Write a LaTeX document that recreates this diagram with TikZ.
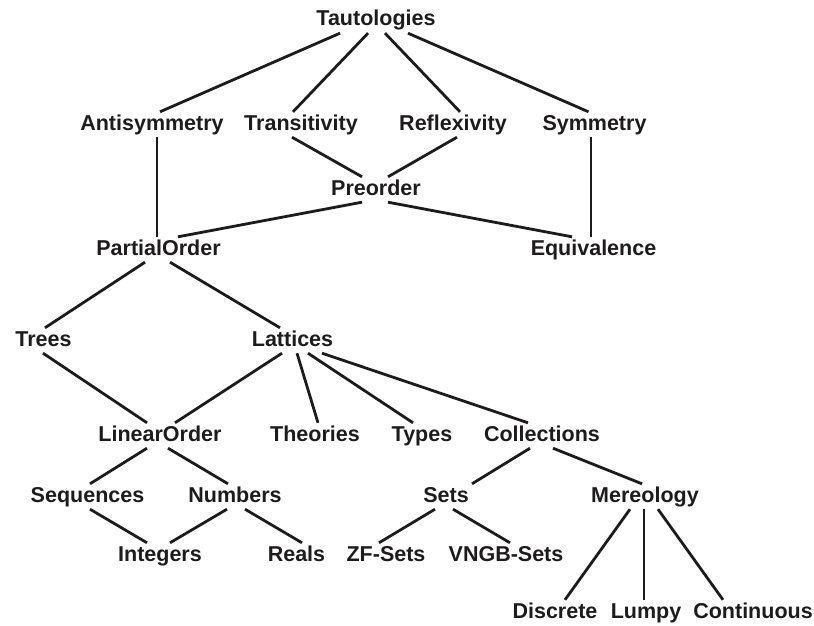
\documentclass[tikz,border=0pt]{standalone}
\usepackage{fontspec}
\setmainfont{Liberation Sans}
\usepackage{tikz}

\definecolor{inkdark}{HTML}{1E1B1C}

\tikzset{
    concept/.style={anchor=base, inner xsep=2pt, inner ysep=3pt, text height=15pt, text depth=4pt,
        font=\fontsize{21.5}{24}\selectfont\bfseries, text=inkdark},
    link/.style={line width=2.8pt, inkdark}
}

\begin{document}
\begin{tikzpicture}[x=1pt,y=-1pt]
    \useasboundingbox (0,0) rectangle (814,626);

    % Place concepts (at their baselines)
    \node[concept] (taut) at (376,26) {Tautologies};
    \node[concept] (anti) at (152,130) {Antisymmetry};
    \node[concept] (trans) at (301,130) {Transitivity};
    \node[concept] (refl) at (453,130) {Reflexivity};
    \node[concept] (symm) at (594.5,130) {Symmetry};
    \node[concept] (preorder) at (376,195) {Preorder};
    \node[concept] (partial) at (158.5,255) {PartialOrder};
    \node[concept] (equiv) at (593.5,255) {Equivalence};
    \node[concept] (trees) at (43.5,346) {Trees};
    \node[concept] (lattices) at (292.5,346) {Lattices};
    \node[concept] (linear) at (160,441) {LinearOrder};
    \node[concept] (theories) at (315,441) {Theories};
    \node[concept] (types) at (422,441) {Types};
    \node[concept] (coll) at (542,441) {Collections};
    \node[concept] (seq) at (87.5,502) {Sequences};
    \node[concept] (numbers) at (235,502) {Numbers};
    \node[concept] (sets) at (446,502) {Sets};
    \node[concept] (mereo) at (645,502) {Mereology};
    \node[concept] (integers) at (160,561) {Integers};
    \node[concept] (reals) at (296.5,561) {Reals};
    \node[concept] (zfsets) at (386,561) {ZF-Sets};
    \node[concept] (vngb) at (506,561) {VNGB-Sets};
    \node[concept] (discrete) at (555,618) {Discrete};
    \node[concept] (lumpy) at (646,618) {Lumpy};
    \node[concept] (cont) at (753,618) {Continuous};

    % Draw links
    \draw[link] ([xshift=-36pt]taut.south) -- ([xshift=8pt]anti.north);
    \draw[link] ([xshift=-8pt]taut.south) -- ([xshift=-8pt]trans.north);
    \draw[link] ([xshift=9pt]taut.south) -- ([xshift=7pt]refl.north);
    \draw[link] ([xshift=32pt]taut.south) -- ([xshift=-6pt]symm.north);
    \draw[link] ([xshift=5pt]anti.south) -- ([xshift=-1.5pt]partial.north);
    \draw[link] ([xshift=-9pt]trans.south) -- ([xshift=-14pt]preorder.north);
    \draw[link] ([xshift=4pt]refl.south) -- ([xshift=12pt]preorder.north);
    \draw[link] ([xshift=-3.5pt]symm.south) -- ([xshift=-2.5pt]equiv.north);
    \draw[link] ([xshift=-14pt]preorder.south) -- ([xshift=19.5pt]partial.north);
    \draw[link] ([xshift=12pt]preorder.south) -- ([xshift=-21.5pt]equiv.north);
    \draw[link] ([xshift=-13.5pt]partial.south) -- ([xshift=1.5pt]trees.north);
    \draw[link] ([xshift=11.5pt]partial.south) -- ([xshift=-12.5pt]lattices.north);
    \draw[link] ([xshift=-0.5pt]trees.south) -- ([xshift=-13pt]linear.north);
    \draw[link] ([xshift=-10.5pt]lattices.south) -- ([xshift=15pt]linear.north);
    \draw[link] ([xshift=4.5pt]lattices.south) -- ([xshift=3pt]theories.north);
    \draw[link] ([xshift=15.5pt]lattices.south) -- ([xshift=-9pt]types.north);
    \draw[link] ([xshift=29.5pt]lattices.south) -- ([xshift=-14pt]coll.north);
    \draw[link] ([xshift=-13pt]linear.south) -- ([xshift=2.5pt]seq.north);
    \draw[link] ([xshift=8pt]linear.south) -- ([xshift=-7pt]numbers.north);
    \draw[link] ([xshift=2.5pt]seq.south) -- ([xshift=-13pt]integers.north);
    \draw[link] ([xshift=-8pt]numbers.south) -- ([xshift=10pt]integers.north);
    \draw[link] ([xshift=10pt]numbers.south) -- ([xshift=5.5pt]reals.north);
    \draw[link] ([xshift=-12pt]coll.south) -- ([xshift=26pt]sets.north);
    \draw[link] ([xshift=11pt]coll.south) -- ([xshift=-3pt]mereo.north);
    \draw[link] ([xshift=-11pt]sets.south) -- ([xshift=-7pt]zfsets.north);
    \draw[link] ([xshift=7pt]sets.south) -- ([xshift=4pt]vngb.north);
    \draw[link] ([xshift=-15pt]mereo.south) -- ([xshift=10pt]discrete.north);
    \draw[link] ([xshift=-1pt]mereo.south) -- ([xshift=-2pt]lumpy.north);
    \draw[link] ([xshift=13pt]mereo.south) -- ([xshift=-30pt]cont.north);
\end{tikzpicture}
\end{document}
